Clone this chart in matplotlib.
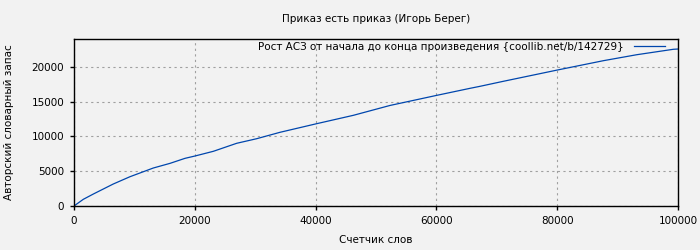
import matplotlib
matplotlib.use("Agg")
import matplotlib.pyplot as plt

title = "Приказ есть приказ (Игорь Берег)"
xlabel = "Счетчик слов"
ylabel = "Авторский словарный запас"
legend_label = "Рост АСЗ от начала до конца произведения {coollib.net/b/142729}"

words = [0, 1540, 3200, 6500, 9270, 13130, 15900, 18380, 20030, 23070, 26930,
         30240, 34100, 40180, 46240, 52320, 60050, 65560, 67220, 71080,
         80020, 87630, 93160, 99220, 100000]
vocab = [0, 960, 1720, 3160, 4210, 5460, 6130, 6850, 7185, 7860, 9010,
         9670, 10590, 11830, 13030, 14450, 15900, 16910, 17200, 17920,
         19540, 20880, 21740, 22520, 22560]

xticks = [0, 20000, 40000, 60000, 80000, 100000]
yticks = [0, 5000, 10000, 15000, 20000]

plt.rcParams['font.family'] = ['DejaVu Sans']
plt.rcParams['font.size'] = 7.5

bg = "#f2f2f2"
fig = plt.figure(figsize=(7, 2.5), dpi=100, facecolor=bg)
ax = fig.add_axes([74/700, 44/250, 604/700, 167/250], facecolor=bg)

ax.plot(words, vocab, color="#0046ad", linewidth=0.9, label=legend_label)

ax.set_xlim(0, 100000)
ax.set_ylim(0, 24000)
ax.set_xticks(xticks)
ax.set_yticks(yticks)
ax.tick_params(axis='both', direction='out', length=3, width=1, labelsize=7.5, pad=4,
               top=False, right=False)
ax.grid(True, color="#a0a0a0", linestyle=(0, (2, 3)), linewidth=0.8)
for s in ax.spines.values():
    s.set_color("black")
    s.set_linewidth(1.0)

fig.text(376/700, 1 - 19/250, title, ha='center', va='center', fontsize=7.5)
fig.text(376/700, 1 - 240/250, xlabel, ha='center', va='center', fontsize=7.5)
fig.text(9/700, 1 - 122/250, ylabel, ha='center', va='center', rotation=90, fontsize=7.5)

leg = ax.legend(loc='upper right', bbox_to_anchor=(1 - 10/604, 1), frameon=False,
                markerfirst=False, handlelength=3.0, handletextpad=0.95,
                borderaxespad=0.2, borderpad=0.1, fontsize=7.5)

fig.savefig("out.png", dpi=100, facecolor=bg)
